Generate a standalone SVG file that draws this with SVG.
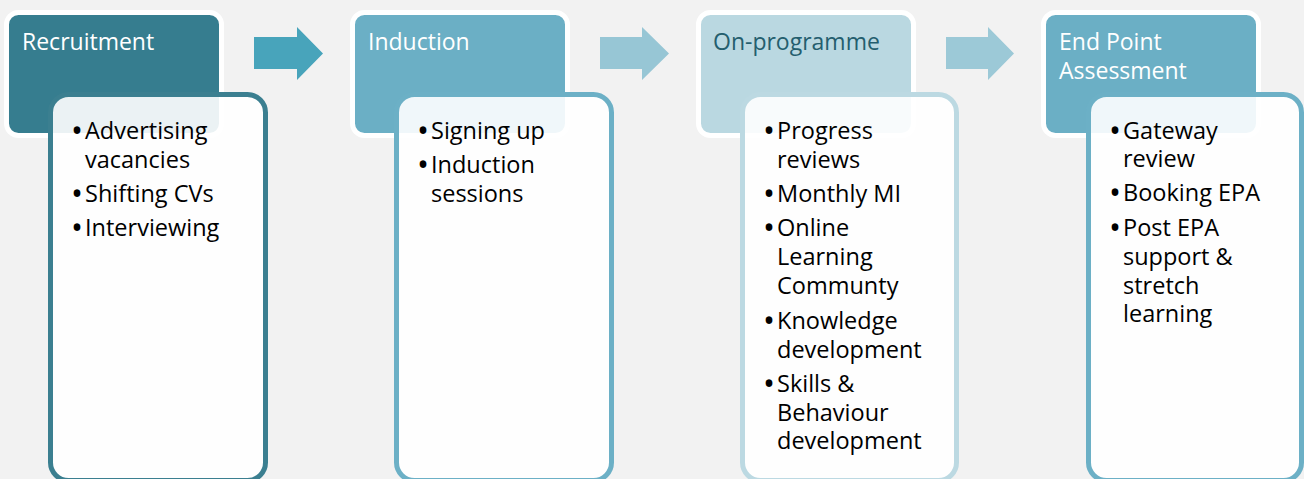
<svg xmlns="http://www.w3.org/2000/svg" width="1304" height="479" viewBox="0 0 1304 479">
<style>
.hdr{stroke:#FFFFFF;stroke-width:5}
.card{fill:#FFFFFF;fill-opacity:0.9;stroke-width:5}
.ht{font-family:"Open Sans","Liberation Sans",sans-serif;font-size:23px;fill:#FFFFFF}
.bt{font-family:"Open Sans","Liberation Sans",sans-serif;font-size:23.5px;fill:#000000}
.bu{font-size:32px}
</style>
<rect x="0" y="0" width="1304" height="479" fill="#F2F2F2"/>
<g id="connectors">
<polygon points="254,37 297,37 297,27 323,53.5 297,80 297,69 254,69" fill="#48A4BB"/>
<polygon points="600,37 642,37 642,27 669,53.5 642,80 642,69 600,69" fill="#97C6D5"/>
<polygon points="946,37 988,37 988,27 1014,53.5 988,80 988,69 946,69" fill="#9CC9D7"/>
</g>
<g id="node-recruitment">
<rect class="hdr" x="6.5" y="12.5" width="215" height="123" rx="12" fill="#367D8F"/>
<text class="ht" x="22" y="50">Recruitment</text>
<rect class="card" x="50.5" y="94.5" width="215" height="386" rx="18" stroke="#3B7F90"/>
<text class="bt" x="71" y="142"><tspan class="bu">•</tspan><tspan x="85" y="139">Advertising</tspan></text>
<text class="bt" x="85" y="167.5">vacancies</text>
<text class="bt" x="71" y="205"><tspan class="bu">•</tspan><tspan x="85" y="202">Shifting CVs</tspan></text>
<text class="bt" x="71" y="239"><tspan class="bu">•</tspan><tspan x="85" y="236">Interviewing</tspan></text>
</g>
<g id="node-induction">
<rect class="hdr" x="352.5" y="12.5" width="215" height="123" rx="12" fill="#6BAFC5"/>
<text class="ht" x="368" y="50">Induction</text>
<rect class="card" x="396.5" y="94.5" width="215" height="386" rx="18" stroke="#6CB0C6"/>
<text class="bt" x="417" y="142"><tspan class="bu">•</tspan><tspan x="431" y="139">Signing up</tspan></text>
<text class="bt" x="417" y="176"><tspan class="bu">•</tspan><tspan x="431" y="173">Induction</tspan></text>
<text class="bt" x="431" y="202">sessions</text>
</g>
<g id="node-onprogramme">
<rect class="hdr" x="698.5" y="12.5" width="215" height="123" rx="12" fill="#BAD8E1"/>
<text class="ht" x="713" y="50" style="fill:#245E6E">On-programme</text>
<rect class="card" x="742.5" y="94.5" width="214" height="386" rx="18" stroke="#BCD9E2"/>
<text class="bt" x="763" y="142"><tspan class="bu">•</tspan><tspan x="777" y="139">Progress</tspan></text>
<text class="bt" x="777" y="167.5">reviews</text>
<text class="bt" x="763" y="205"><tspan class="bu">•</tspan><tspan x="777" y="202">Monthly MI</tspan></text>
<text class="bt" x="763" y="239"><tspan class="bu">•</tspan><tspan x="777" y="236">Online</tspan></text>
<text class="bt" x="777" y="265">Learning</text>
<text class="bt" x="777" y="294">Communty</text>
<text class="bt" x="763" y="332"><tspan class="bu">•</tspan><tspan x="777" y="329">Knowledge</tspan></text>
<text class="bt" x="777" y="357.5">development</text>
<text class="bt" x="763" y="395"><tspan class="bu">•</tspan><tspan x="777" y="392">Skills &amp;</tspan></text>
<text class="bt" x="777" y="420.5">Behaviour</text>
<text class="bt" x="777" y="449">development</text>
</g>
<g id="node-epa">
<rect class="hdr" x="1043.5" y="12.5" width="215" height="123" rx="12" fill="#6BAFC5"/>
<text class="ht" x="1059" y="50">End Point</text>
<text class="ht" x="1059" y="79">Assessment</text>
<rect class="card" x="1088.5" y="94.5" width="213" height="386" rx="18" stroke="#6CB0C6"/>
<text class="bt" x="1109" y="142"><tspan class="bu">•</tspan><tspan x="1123" y="139">Gateway</tspan></text>
<text class="bt" x="1123" y="167">review</text>
<text class="bt" x="1109" y="204"><tspan class="bu">•</tspan><tspan x="1123" y="201">Booking EPA</tspan></text>
<text class="bt" x="1109" y="239"><tspan class="bu">•</tspan><tspan x="1123" y="236">Post EPA</tspan></text>
<text class="bt" x="1123" y="265">support &amp;</text>
<text class="bt" x="1123" y="294">stretch</text>
<text class="bt" x="1123" y="322">learning</text>
</g>
</svg>
